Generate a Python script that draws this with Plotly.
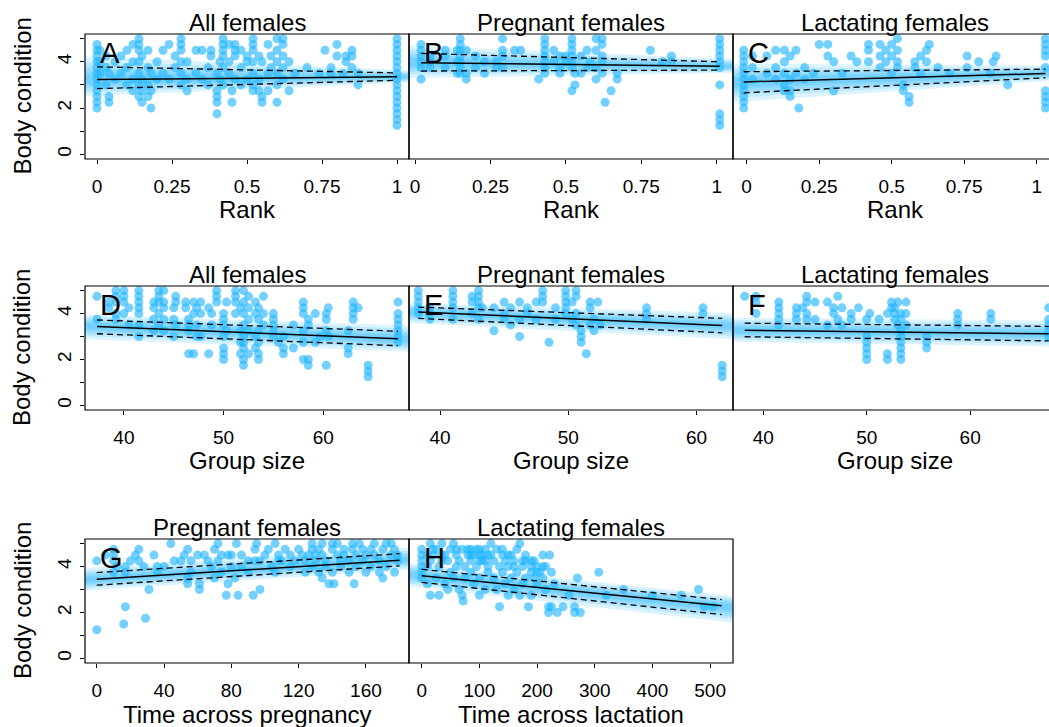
import plotly.graph_objects as go

W, H = 1049, 727

# ---------------- data ----------------
# Panel A: all females, rank
A_rank = [0.0, 0.01, 0.03, 0.04, 0.06, 0.08, 0.10, 0.12, 0.14, 0.15, 0.17, 0.18, 0.20, 0.22, 0.24, 0.26,
          0.28, 0.30, 0.33, 0.35, 0.37, 0.38, 0.40, 0.41, 0.42, 0.44, 0.45, 0.46, 0.48, 0.50, 0.52, 0.54,
          0.55, 0.57, 0.58, 0.60, 0.62, 0.64, 0.66, 0.70, 0.74, 0.76, 0.78, 0.80, 0.82, 0.83, 0.85, 0.87, 1.0]
A_cond = [[2.0, 2.25, 2.5, 2.75, 3.0, 3.25, 3.5, 3.75, 4.0, 4.25, 4.5, 4.75], [3.5, 4.0, 4.5], [3.0, 3.75, 4.25],
          [2.25, 2.5, 3.5], [3.25, 4.0], [3.5, 4.25], [3.0, 3.75, 4.5], [2.75, 3.25, 4.0, 4.75],
          [2.5, 3.0, 3.5, 4.0, 4.5, 4.75, 5.0], [2.25, 2.75, 3.25, 4.25], [2.5, 3.0, 3.75, 4.5], [2.0, 2.75, 3.5],
          [3.25, 4.0], [3.5, 4.5], [3.25, 4.75], [3.75, 4.25], [3.0, 3.5, 4.0, 4.5, 4.75, 5.0], [2.75, 3.25, 4.0],
          [3.5, 4.5], [3.25, 4.5], [3.0, 3.75], [4.25, 4.5], [1.75, 2.25, 2.5, 2.75, 3.5], [3.25, 4.0],
          [3.0, 3.75, 4.25, 4.5, 4.75, 5.0], [3.5, 4.0, 4.75], [2.25, 2.75], [3.25, 4.25, 4.5, 4.75],
          [3.0, 3.75, 4.5], [3.25, 4.0, 4.25], [2.75, 3.0, 3.5, 4.0, 4.5, 4.75, 5.0], [2.75, 3.25, 4.25],
          [2.25, 2.5, 4.0], [2.75, 3.5, 4.75], [3.75, 4.25], [2.25, 3.0, 3.5, 4.0, 4.5, 5.0],
          [3.25, 3.75, 4.25, 4.75, 5.0], [2.75, 4.0], [3.5], [3.75], [3.5], [4.5], [3.5, 3.75], [4.25, 4.75],
          [3.5], [4.0, 4.25], [3.75, 4.25, 4.5], [3.0, 3.5],
          [1.25, 1.5, 1.75, 2.0, 2.25, 2.5, 2.75, 3.0, 3.25, 3.5, 3.75, 4.0, 4.25, 4.5, 4.75, 5.0]]

# Panel B: pregnant females, rank
B_rank = [0.02, 0.05, 0.10, 0.14, 0.15, 0.17, 0.20, 0.23, 0.27, 0.29, 0.33, 0.35, 0.41, 0.43, 0.46, 0.48,
          0.50, 0.52, 0.53, 0.55, 0.57, 0.58, 0.60, 0.62, 0.63, 0.65, 0.67, 0.78, 0.82, 0.85, 1.01]
B_cond = [[3.25, 3.75, 4.0, 4.25, 4.5, 4.75], [3.75, 4.0, 4.25], [3.75, 4.25, 4.5], [3.5, 4.0, 4.5],
          [3.5, 3.75, 4.0, 4.25, 4.5, 4.75, 5.0], [3.25, 3.5, 4.5], [3.75, 4.25], [3.5, 4.0], [3.75, 4.0],
          [3.75, 4.25, 4.5, 5.0], [4.5], [4.5], [3.25], [3.5, 3.75, 4.0, 4.25, 4.5, 4.75, 5.0], [4.0, 4.5],
          [3.5, 3.75, 4.25], [4.0, 4.25], [2.75, 3.75, 4.0, 4.25, 4.5, 4.75, 5.0], [3.0, 3.5], [3.5, 4.25],
          [3.75, 4.5], [4.0], [3.25, 3.75, 4.5, 5.0], [3.5, 4.0, 4.25, 4.75, 5.0], [2.25], [2.75], [3.25, 3.5],
          [4.5], [4.0], [4.0, 4.25], [1.25, 1.5, 1.75, 3.0, 3.75, 4.0, 4.25, 4.5, 4.75, 5.0]]

# Panel C: lactating females, rank
C_rank = [-0.01, 0.02, 0.07, 0.10, 0.13, 0.15, 0.17, 0.18, 0.20, 0.23, 0.25, 0.28, 0.30, 0.33, 0.36, 0.38,
          0.42, 0.46, 0.48, 0.50, 0.52, 0.54, 0.56, 0.58, 0.60, 0.62, 0.63, 0.66, 0.70, 0.76, 0.80, 0.84,
          0.85, 0.86, 0.90, 1.03]
C_cond = [[2.0, 2.25, 2.5, 2.75, 3.0, 3.25, 3.5, 3.75, 4.0, 4.25, 4.5], [3.25, 3.75, 4.25], [3.5, 4.25],
          [3.25, 3.75, 4.5], [2.75, 3.0, 3.5, 4.0, 4.5], [2.5, 2.75, 3.25, 4.25], [3.5, 4.5], [2.0], [3.25, 3.75],
          [3.5], [4.75], [4.25, 4.75], [2.75, 4.0], [3.5], [4.25], [4.0], [4.0, 4.5, 4.75], [3.75, 4.25, 4.75],
          [4.0, 4.5], [3.5, 4.25, 4.75], [3.75, 4.0, 4.5, 5.0], [2.75, 3.0], [2.25, 2.5], [3.75, 4.0],
          [3.5, 4.25], [4.0, 4.5], [4.75], [3.75], [3.5], [3.75, 4.25], [4.0], [3.5], [4.0], [4.25], [3.0],
          [2.0, 2.25, 2.5, 2.75, 3.75, 4.25, 4.5, 4.75, 5.0]]

# Panel D: all females, group size
D_group = [37.3, 38.5, 39.2, 40.0, 40.5, 41.5, 43.0, 43.5, 44.0, 45.0, 45.2, 46.2, 46.5, 47.0, 47.3, 47.7,
           48.5, 48.8, 49.3, 50.0, 50.3, 51.2, 51.7, 52.0, 52.5, 53.2, 53.5, 54.0, 55.0, 55.5, 56.0, 57.0,
           58.0, 58.5, 59.2, 59.7, 60.3, 60.5, 62.5, 63.0, 63.5, 64.5, 67.5]
D_cond = [[3.75, 4.75], [4.25, 4.5], [3.75, 4.0, 4.5, 4.75, 5.0], [4.0, 4.5, 4.75, 5.0], [3.5, 4.25],
          [3.0, 3.5, 4.0, 4.25, 4.5, 4.75, 5.0], [3.25, 3.75, 4.25, 4.5], [3.5, 4.0, 4.5, 4.75, 5.0],
          [3.25, 3.75, 4.25, 4.5, 5.0], [3.0, 3.75, 4.25], [3.5, 4.5, 4.75], [4.25, 4.5], [2.25, 3.25, 3.5, 3.75],
          [2.25, 4.0, 4.5], [3.0, 3.5, 4.25], [3.0, 4.0, 4.5], [2.25, 4.25], [3.5, 4.0], [4.5, 4.75, 5.0],
          [2.0, 2.25, 2.5, 3.0, 3.5, 3.75, 4.0], [3.25, 4.5], [4.0, 4.5, 4.75, 5.0], [2.25, 2.75, 3.25, 4.25],
          [1.75, 2.0, 2.5, 2.75, 3.0, 3.5, 4.0, 4.5, 5.0], [2.25, 3.25, 3.75, 4.25, 4.75], [2.5, 3.0, 4.0, 4.5],
          [2.0, 2.25, 2.75, 3.25, 3.75, 4.25], [3.5, 4.0, 4.75], [3.0, 3.25, 3.5, 3.75, 4.0], [2.75],
          [2.25, 2.5, 3.0], [2.5, 3.5], [2.0, 2.75, 3.25, 4.0, 4.25, 4.5], [1.75, 2.0, 3.5, 3.75], [2.75, 4.0],
          [3.0], [1.75, 3.25, 3.75, 4.0], [3.0, 4.25], [2.25, 2.5, 3.25], [3.75, 4.0, 4.25, 4.5], [4.25],
          [1.25, 1.5, 1.75], [2.75, 3.0, 3.25, 3.5, 3.75, 4.0, 4.5]]

# Panel E: pregnant females, group size
E_group = [38.3, 39.2, 41.0, 42.5, 43.0, 43.3, 44.2, 45.0, 45.5, 46.2, 46.8, 47.5, 48.0, 48.5, 49.0, 49.8,
           50.3, 50.6, 51.0, 51.4, 51.7, 52.0, 52.3, 52.5, 56.1, 60.5, 62.0]
E_cond = [[4.0, 4.25, 4.5, 4.75, 5.0], [3.75, 4.0, 4.25], [3.75, 4.25, 4.5, 4.75, 5.0], [4.0, 4.5, 4.75],
          [3.75, 4.25, 4.5, 4.75, 5.0], [4.25], [3.25, 4.25], [3.75, 4.0, 4.5], [3.5, 4.25], [3.0, 3.75, 4.5],
          [4.0, 4.25], [3.75, 4.5], [4.5, 4.75, 5.0], [2.75], [3.75, 4.25], [4.0, 4.25, 4.5, 4.75, 5.0],
          [3.75, 4.5], [3.5, 4.0, 4.75, 5.0], [2.75, 3.0, 3.25], [2.25], [3.5, 4.25, 4.5], [3.25, 3.75], [4.5],
          [3.5], [3.75, 4.0, 4.25], [4.0, 4.25], [1.25, 1.5, 1.75]]

# Panel F: lactating females, group size
F_group = [38.2, 39.3, 41.5, 43.2, 43.8, 44.2, 45.0, 46.2, 46.8, 47.2, 47.6, 48.5, 49.2, 50.0, 50.3, 51.2,
           52.0, 52.4, 52.7, 53.0, 53.3, 53.8, 55.8, 58.8, 62.0, 67.6]
F_cond = [[4.75], [4.0, 4.5, 4.75], [3.5, 3.75, 4.0, 4.25, 4.5], [3.75, 4.0, 4.25], [4.25],
          [3.75, 4.0, 4.5, 4.75], [3.75, 4.5], [3.5, 4.5], [4.0, 4.25], [3.75, 4.75], [3.5, 4.25], [3.75, 4.0],
          [4.25], [2.0, 2.25, 2.5, 2.75, 3.0, 3.75], [4.0], [3.75], [2.0, 2.25, 4.0], [4.25, 4.5],
          [3.75, 4.0, 4.25], [3.5, 4.5], [2.0, 2.25, 2.5, 2.75, 3.0, 3.25, 3.75, 4.0], [3.5, 4.0, 4.5],
          [2.5, 2.75, 3.0], [3.5, 3.75, 4.0], [3.75, 4.0], [3.0, 3.25, 3.5, 3.75, 4.25]]

# Panel G: pregnant females, time across pregnancy
G_time = [0, 5, 10, 12, 16, 17, 20, 23, 25, 28, 29, 31, 34, 36, 40, 44, 46, 50, 52, 54, 56, 60, 61, 64, 66,
          68, 70, 72, 74, 77, 78, 80, 82, 83, 84, 86, 90, 93, 94, 95, 97, 100, 102, 104, 106, 108, 110, 112,
          115, 118, 120, 122, 124, 126, 128, 130, 132, 134, 136, 138, 140, 141, 143, 145, 147, 150, 152, 153,
          154, 156, 158, 160, 163, 165, 168, 170, 172, 175, 177, 179]
G_cond = [[1.25, 4.25], [4.5], [3.75, 4.25, 4.5, 4.75], [4.0], [1.5], [2.25, 3.75, 4.0], [4.25], [4.5],
          [4.25, 4.75], [4.0], [1.75], [3.0], [4.5], [3.75, 4.0], [4.0], [5.0], [4.25], [4.25], [4.5],
          [3.25, 3.5, 4.75], [3.75, 4.25], [4.5], [3.0, 3.25], [4.5], [4.25], [4.0], [3.5, 4.75], [4.25, 5.0],
          [3.75, 4.5], [2.75], [3.25, 4.5], [4.0, 4.5], [3.5], [5.0], [2.75], [4.0, 4.5], [3.75, 4.25], [2.75],
          [4.25, 4.75], [5.0], [3.0, 4.25], [4.5], [4.75], [4.0], [3.75, 5.0], [4.25, 4.5], [4.25], [4.75],
          [4.0, 4.5], [4.25], [4.75], [4.5], [3.75, 4.25], [4.5], [4.0, 4.75, 5.0], [4.25, 4.5], [3.75, 4.75],
          [3.5, 4.5, 5.0], [4.0, 4.25], [3.25], [3.75, 4.75, 5.0], [3.25], [4.5, 5.0], [4.0, 4.25], [4.5, 4.75],
          [3.75, 4.25], [4.75, 5.0], [3.25], [4.0, 4.5], [5.0], [4.25, 4.75], [3.75, 4.5], [4.0, 4.75],
          [4.5, 5.0], [3.75, 4.25], [3.5, 4.75], [4.0, 5.0], [4.5, 5.0], [3.75, 4.75], [4.25, 4.5]]

# Panel H: lactating females, time across lactation
H_time = [0, 10, 15, 20, 25, 30, 35, 40, 45, 50, 55, 60, 65, 70, 72, 75, 80, 85, 90, 95, 100, 105, 110, 115,
          120, 125, 130, 135, 140, 145, 150, 155, 160, 165, 170, 175, 180, 185, 190, 195, 200, 205, 210, 215,
          220, 222, 225, 230, 235, 245, 255, 265, 270, 275, 307, 320, 350, 400, 450, 480, 490, 505]
H_cond = [[3.5, 3.75, 4.0, 4.25, 4.5, 4.75], [3.25, 4.0, 4.5], [2.75, 4.25, 5.0], [4.5, 4.75], [3.5, 4.75],
          [2.75, 4.0], [4.25, 4.5, 5.0], [3.25, 4.5], [3.0, 4.25], [3.75, 4.75], [3.5, 5.0], [4.0, 4.5, 4.75],
          [3.0, 4.25], [2.75, 4.75], [2.5], [3.5, 4.0], [4.5, 4.75], [3.75, 4.25, 4.5, 4.75], [3.25, 4.5],
          [4.0, 4.75], [2.75, 3.5, 4.25, 4.5, 4.75], [4.25, 4.5], [3.0, 4.25, 4.75], [3.75, 4.0, 4.5],
          [4.5, 5.0], [3.5, 4.25], [3.0, 4.75], [2.25, 4.0], [3.75, 4.5, 4.75], [3.25, 4.25], [2.75, 4.0, 4.5],
          [3.5, 4.5], [3.0, 4.0, 4.25], [3.75, 4.75], [2.75, 5.0], [3.25, 4.0, 4.25], [3.5, 4.25, 4.5], [2.25],
          [2.75, 3.75, 4.0, 4.25], [3.5, 4.25], [3.25, 3.75, 4.0], [3.75], [3.5, 4.0, 4.5], [3.0, 4.0],
          [2.0, 2.25], [4.5], [2.25, 3.75], [3.25], [2.0], [2.25], [2.75], [2.0, 2.25], [3.5], [2.0], [3.75],
          [2.75], [3.0], [2.75], [2.75], [3.0], [2.25], [2.25]]

# Model fits: x at ends, posterior mean and 95% interval
A_fit_x, A_fit_mean, A_fit_lo, A_fit_hi = [0.0, 1.0], [3.23, 3.35], [2.84, 3.20], [3.78, 3.52]
B_fit_x, B_fit_mean, B_fit_lo, B_fit_hi = [0.02, 1.01], [3.96, 3.81], [3.60, 3.64], [4.36, 4.00]
C_fit_x, C_fit_mean, C_fit_lo, C_fit_hi = [-0.01, 1.03], [3.13, 3.49], [2.66, 3.31], [3.57, 3.68]
D_fit_x, D_fit_mean, D_fit_lo, D_fit_hi = [37.3, 67.5], [3.44, 2.90], [3.12, 2.60], [3.72, 3.23]
E_fit_x, E_fit_mean, E_fit_lo, E_fit_hi = [38.3, 62.0], [4.07, 3.48], [3.79, 3.16], [4.28, 3.79]
F_fit_x, F_fit_mean, F_fit_lo, F_fit_hi = [38.2, 67.6], [3.27, 3.12], [2.99, 2.81], [3.58, 3.44]
G_fit_x, G_fit_mean, G_fit_lo, G_fit_hi = [0, 180], [3.45, 4.27], [3.19, 4.03], [3.74, 4.56]
H_fit_x, H_fit_mean, H_fit_lo, H_fit_hi = [0, 520], [3.60, 2.29], [3.31, 1.91], [3.88, 2.56]

rank_ticks = [0, 0.25, 0.5, 0.75, 1]
rank_labels = ["0", "0.25", "0.5", "0.75", "1"]
group_ticks = [40, 50, 60]
preg_ticks = [0, 40, 80, 120, 160]
lact_ticks = [0, 100, 200, 300, 400, 500]
y_ticks = [0, 1, 2, 3, 4, 5]
y_labels = ["0", "", "2", "", "4", ""]

# ---------------- layout geometry (pixels) ----------------
cols = [(85, 409), (409, 733), (733, 1057)]
rows = [(34, 159), (286, 410), (539, 663)]
FONT = "Liberation Sans, Arial, Helvetica, sans-serif"
PT = "rgba(30,180,255,0.62)"
GLOW = "rgba(45,185,255,0.16)"

panels = [
    dict(L="A", title="All females", xt="Rank", r=0, c=0, xs=A_rank, ys=A_cond, xr=[-0.04, 1.04],
         tv=rank_ticks, tt=rank_labels, fx=A_fit_x, fm=A_fit_mean, fl=A_fit_lo, fh=A_fit_hi),
    dict(L="B", title="Pregnant females", xt="Rank", r=0, c=1, xs=B_rank, ys=B_cond, xr=[-0.02, 1.054],
         tv=rank_ticks, tt=rank_labels, fx=B_fit_x, fm=B_fit_mean, fl=B_fit_lo, fh=B_fit_hi),
    dict(L="C", title="Lactating females", xt="Rank", r=0, c=2, xs=C_rank, ys=C_cond, xr=[-0.047, 1.07],
         tv=rank_ticks, tt=rank_labels, fx=C_fit_x, fm=C_fit_mean, fl=C_fit_lo, fh=C_fit_hi),
    dict(L="D", title="All females", xt="Group size", r=1, c=0, xs=D_group, ys=D_cond, xr=[36.1, 68.6],
         tv=group_ticks, tt=None, fx=D_fit_x, fm=D_fit_mean, fl=D_fit_lo, fh=D_fit_hi),
    dict(L="E", title="Pregnant females", xt="Group size", r=1, c=1, xs=E_group, ys=E_cond, xr=[37.58, 62.84],
         tv=group_ticks, tt=None, fx=E_fit_x, fm=E_fit_mean, fl=E_fit_lo, fh=E_fit_hi),
    dict(L="F", title="Lactating females", xt="Group size", r=1, c=2, xs=F_group, ys=F_cond, xr=[37.07, 68.4],
         tv=group_ticks, tt=None, fx=F_fit_x, fm=F_fit_mean, fl=F_fit_lo, fh=F_fit_hi),
    dict(L="G", title="Pregnant females", xt="Time across pregnancy", r=2, c=0, xs=G_time, ys=G_cond,
         xr=[-7.0, 185.6], tv=preg_ticks, tt=None, fx=G_fit_x, fm=G_fit_mean, fl=G_fit_lo, fh=G_fit_hi),
    dict(L="H", title="Lactating females", xt="Time across lactation", r=2, c=1, xs=H_time, ys=H_cond,
         xr=[-22.0, 539.7], tv=lact_ticks, tt=None, fx=H_fit_x, fm=H_fit_mean, fl=H_fit_lo, fh=H_fit_hi),
]


def px(p):
    return p / W


def py(p):
    return 1 - p / H


fig = go.Figure()
layout = {}
annotations = []
shapes = []

for i, p in enumerate(panels, start=1):
    l, rgt = cols[p["c"]]
    t, b = rows[p["r"]]
    xa, ya = f"x{i}", f"y{i}"
    x_lo, x_hi = p["xr"]
    # clip the right column to the page edge while keeping the pixel scale
    vis_r = min(rgt, W)
    x_hi_vis = x_lo + (x_hi - x_lo) * (vis_r - l) / (rgt - l)

    # points
    xs, ys = [], []
    for xv, grp in zip(p["xs"], p["ys"]):
        for yv in grp:
            xs.append(xv)
            ys.append(yv)
    fig.add_trace(go.Scatter(x=xs, y=ys, mode="markers", xaxis=xa, yaxis=ya,
                             marker=dict(size=9, color=PT, line=dict(width=0)),
                             showlegend=False, hoverinfo="skip"))

    # glow of posterior lines (bands around the fit, extended to the panel edges)
    fx, fm, fl, fh = p["fx"], p["fm"], p["fl"], p["fh"]
    slope_m = (fm[1] - fm[0]) / (fx[1] - fx[0])
    slope_u = ((fh[1] - fm[1]) - (fh[0] - fm[0])) / (fx[1] - fx[0])
    slope_d = ((fm[1] - fl[1]) - (fm[0] - fl[0])) / (fx[1] - fx[0])
    ex = [x_lo, x_hi_vis]
    em = [fm[0] + slope_m * (e - fx[0]) for e in ex]
    eu = [max(0.05, (fh[0] - fm[0]) + slope_u * (e - fx[0])) for e in ex]
    ed = [max(0.05, (fm[0] - fl[0]) + slope_d * (e - fx[0])) for e in ex]
    for k in [1.8, 1.4, 1.1, 0.85, 0.6, 0.4]:
        gx = [ex[0], ex[1], ex[1], ex[0], ex[0]]
        gy = [em[0] + k * eu[0], em[1] + k * eu[1], em[1] - k * ed[1], em[0] - k * ed[0], em[0] + k * eu[0]]
        fig.add_trace(go.Scatter(x=gx, y=gy, mode="lines", fill="toself", fillcolor=GLOW,
                                 line=dict(width=0), xaxis=xa, yaxis=ya,
                                 showlegend=False, hoverinfo="skip"))

    # fit lines
    for yy, dash, wd in [(fh, "6px,4px", 1.3), (fl, "6px,4px", 1.3), (fm, "solid", 1.5)]:
        fig.add_trace(go.Scatter(x=fx, y=yy, mode="lines", xaxis=xa, yaxis=ya,
                                 line=dict(color="black", width=wd, dash=dash),
                                 showlegend=False, hoverinfo="skip"))

    key = "" if i == 1 else str(i)
    layout[f"xaxis{key}"] = dict(
        domain=[px(l), px(vis_r)], range=[x_lo, x_hi_vis], anchor=ya,
        tickvals=p["tv"], ticktext=p["tt"] if p["tt"] else [str(v) for v in p["tv"]],
        ticks="outside", ticklen=4, tickwidth=1, tickcolor="black",
        tickfont=dict(family=FONT, size=19, color="black"), ticklabelstandoff=6,
        showgrid=False, zeroline=False, showline=False, fixedrange=True)
    first_col = p["c"] == 0
    layout[f"yaxis{key}"] = dict(
        domain=[py(b), py(t)], range=[-0.2, 5.2], anchor=xa,
        tickvals=y_ticks if first_col else [], ticktext=y_labels if first_col else [],
        ticks="outside" if first_col else "", ticklen=4, tickwidth=1, tickcolor="black",
        tickangle=-90, tickfont=dict(family=FONT, size=19, color="black"), ticklabelstandoff=1,
        showticklabels=first_col, showgrid=False, zeroline=False, showline=False, fixedrange=True)

    # box
    shapes.append(dict(type="rect", xref="paper", yref="paper", x0=px(l), x1=px(rgt), y0=py(b), y1=py(t),
                       line=dict(color="black", width=1.2), fillcolor="rgba(0,0,0,0)", layer="above"))

    cx = (l + rgt) / 2
    annotations.append(dict(text=p["title"], x=px(cx), y=py(t - 12), xref="paper", yref="paper",
                            xanchor="center", yanchor="middle", showarrow=False,
                            font=dict(family=FONT, size=24, color="black")))
    annotations.append(dict(text=p["xt"], x=px(cx), y=py(b + 51), xref="paper", yref="paper",
                            xanchor="center", yanchor="middle", showarrow=False,
                            font=dict(family=FONT, size=24, color="black")))
    annotations.append(dict(text=p["L"], x=px(l + 13), y=py(t + 19), xref="paper", yref="paper",
                            xanchor="left", yanchor="middle", showarrow=False,
                            font=dict(family=FONT, size=29, color="black")))
    if first_col:
        annotations.append(dict(text="Body condition", x=px(22), y=py((t + b) / 2), xref="paper", yref="paper",
                                xanchor="center", yanchor="middle", textangle=-90, showarrow=False,
                                font=dict(family=FONT, size=24, color="black")))

fig.update_layout(width=W, height=H, margin=dict(l=0, r=0, t=0, b=0),
                  paper_bgcolor="white", plot_bgcolor="rgba(0,0,0,0)",
                  annotations=annotations, shapes=shapes, showlegend=False, **layout)

fig.write_html("out.html", config={"displayModeBar": False},
               post_script="document.body.style.margin='0px';document.body.style.padding='0px';"
                           "document.body.style.overflow='hidden';")
